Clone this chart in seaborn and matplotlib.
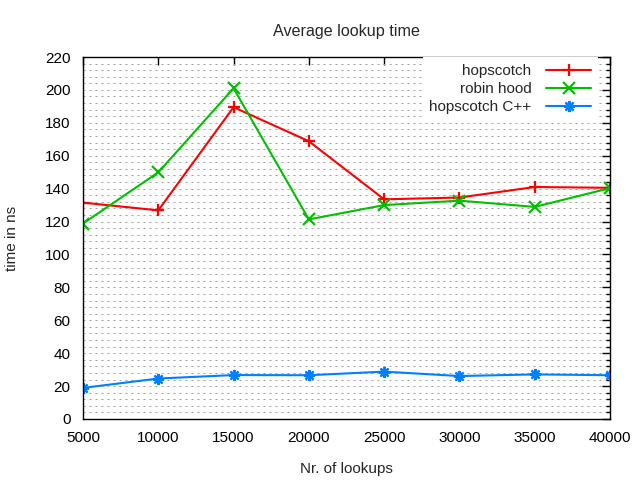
import matplotlib
matplotlib.use("Agg")
import matplotlib.pyplot as plt
from matplotlib.ticker import MultipleLocator
import seaborn as sns
import pandas as pd

lookups = [5000, 10000, 15000, 20000, 25000, 30000, 35000, 40000]
hopscotch = [131.5, 126.8, 189.5, 168.8, 133.5, 134.6, 141.0, 140.5]
robin_hood = [118.8, 149.9, 201.0, 121.3, 130.0, 132.7, 128.9, 140.3]
hopscotch_cpp = [18.9, 24.6, 26.7, 26.6, 28.8, 26.1, 27.1, 26.6]
series_names = ["hopscotch", "robin hood", "hopscotch C++"]
y_ticks = list(range(0, 221, 20))
x_ticks = lookups

sns.set_style("white")
plt.rcParams["font.family"] = ["Liberation Sans", "DejaVu Sans"]

fig = plt.figure(figsize=(6.4, 4.8), dpi=100)
ax = fig.add_axes([83/640, 61/480, (610-83)/640, (419-57)/480])

styles = [
    ("#ff0000", "+", 9),
    ("#00c000", "x", 8),
    ("#0080ff", (8, 2, 0), 8),
]
for name, vals, (col, mk, ms) in zip(series_names, [hopscotch, robin_hood, hopscotch_cpp], styles):
    df = pd.DataFrame({"x": lookups, "y": vals})
    sns.lineplot(data=df, x="x", y="y", ax=ax, color=col, marker=mk, markersize=ms,
                 markeredgewidth=1.6, markeredgecolor=col, linewidth=1.5, label=name)

ax.set_xlim(5000, 40000)
ax.set_ylim(0, 220)
ax.set_xticks(x_ticks)
ax.set_yticks(y_ticks)
ax.yaxis.set_minor_locator(MultipleLocator(4))
ax.tick_params(axis="both", which="both", direction="in", top=True, right=True,
               labelsize=11, colors="black", width=1)
ax.tick_params(axis="both", which="major", length=6, pad=9)
ax.tick_params(axis="y", which="minor", length=3)
ax.grid(False)
ax.yaxis.grid(True, which="both", color="#a0a0a0", linestyle=(0, (2, 4)), linewidth=0.72)
ax.set_axisbelow(True)
for s in ax.spines.values():
    s.set_color("black")
    s.set_linewidth(1)

ax.set_title("Average lookup time", fontsize=11.6, pad=15)
ax.set_xlabel("Nr. of lookups", fontsize=11, labelpad=12)
ax.set_ylabel("time in ns", fontsize=11, labelpad=19)

leg = ax.legend(loc="upper right", bbox_to_anchor=((598-83)/527, 1.0), markerfirst=False,
                frameon=True, fontsize=11, handlelength=2.95, handletextpad=0.95,
                borderaxespad=0, borderpad=0.45, labelspacing=0.28, framealpha=1)
leg.get_frame().set_edgecolor("none")
leg.get_frame().set_facecolor("white")
leg.get_frame().set_boxstyle("square", pad=0)

fig.savefig("out.png", dpi=100)
